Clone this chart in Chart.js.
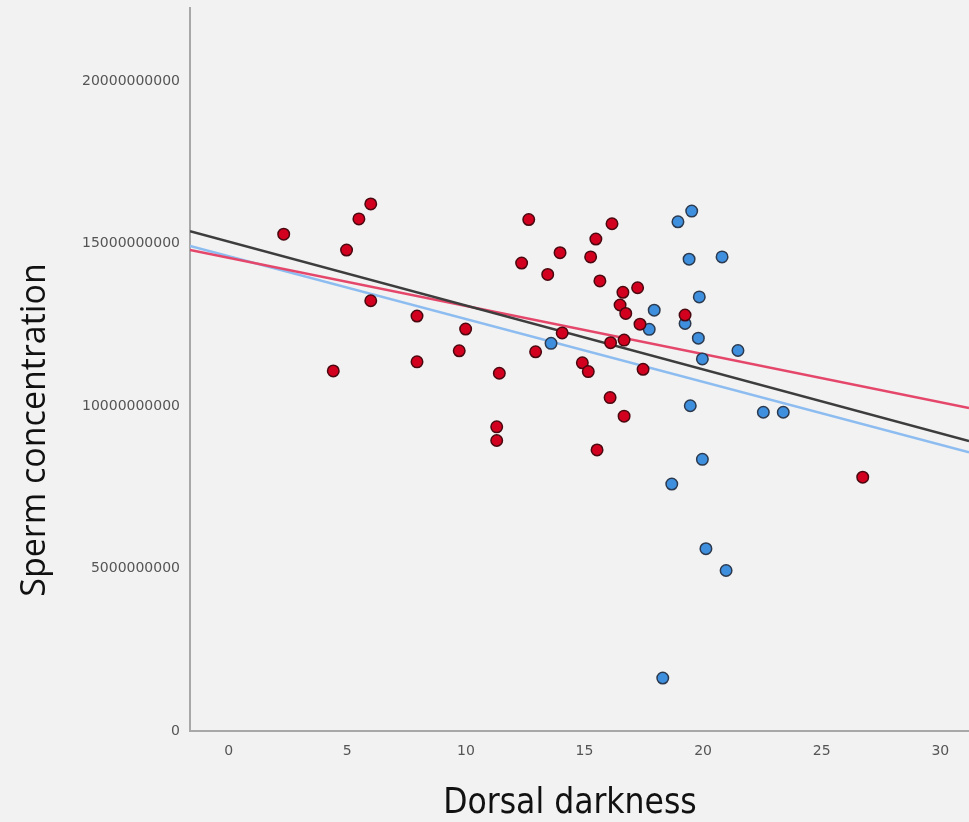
<!DOCTYPE html>
<html>
<head>
<meta charset="utf-8">
<script src="https://cdn.jsdelivr.net/npm/chart.js@4"></script>
<style>
  body { margin: 0; background: #f2f2f2; }
  #wrap { width: 969px; height: 822px; position: relative; }
</style>
</head>
<body>
<div id="wrap"><canvas id="scatterChart"></canvas></div>
<script>
// ---------------------------------------------------------------------------
// data (y in units of 1e9)
// ---------------------------------------------------------------------------
const redX = [2.32, 4.41, 4.97, 5.49, 5.99, 5.99, 7.94, 7.94, 9.72, 9.99,
              11.30, 11.30, 11.41, 12.35, 12.65, 12.94, 13.45, 13.97, 14.06, 14.91,
              15.16, 15.26, 15.48, 15.53, 15.65, 16.08, 16.16, 16.10, 16.50, 16.62,
              16.74, 16.67, 16.67, 17.24, 17.34, 17.47, 19.24, 26.73];
const redY = [15.29, 11.08, 14.80, 15.76, 16.22, 13.24, 12.77, 11.36, 11.70, 12.37,
              9.36, 8.94, 11.01, 14.40, 15.74, 11.67, 14.05, 14.72, 12.25, 11.33,
              11.06, 14.59, 15.14, 8.65, 13.85, 10.26, 15.61, 11.95, 13.11, 13.50,
              12.85, 9.69, 12.03, 13.64, 12.52, 11.13, 12.80, 7.81];

const blueX = [19.52, 18.94, 19.41, 20.80, 19.84, 17.94, 17.73, 19.24, 19.80, 21.47,
               19.97, 13.59, 19.46, 22.54, 23.38, 19.97, 18.68, 20.12, 20.97, 18.30];
const blueY = [16.00, 15.67, 14.52, 14.59, 13.36, 12.95, 12.36, 12.54, 12.09, 11.71,
               11.45, 11.93, 10.01, 9.81, 9.81, 8.36, 7.60, 5.61, 4.94, 1.63];

// fit lines, value at each end of the x range
const fitX = [-1.63, 31.21];
const fitAll = [15.38, 8.92];
const fitRed = [14.80, 9.94];
const fitBlue = [14.93, 8.58];

const xTicks = [0, 5, 10, 15, 20, 25, 30];
const yTicks = [0, 5, 10, 15, 20];

const xTitle = 'Dorsal darkness';
const yTitle = 'Sperm concentration';

const E9 = 1e9;
const toPoints = (xs, ys) => xs.map((x, i) => ({ x: x, y: ys[i] * E9 }));

// axis titles are drawn by hand so they can sit off-centre like the original
const axisTitles = {
    id: 'axisTitles',
    afterDraw(chart) {
        const ctx = chart.ctx;
        ctx.save();
        ctx.fillStyle = '#111';
        ctx.textAlign = 'center';
        ctx.textBaseline = 'alphabetic';
        ctx.font = "35px 'DejaVu Sans Condensed', 'DejaVu Sans'";
        ctx.fillText(xTitle, 570, 813);
        ctx.translate(45, 430);
        ctx.rotate(-Math.PI / 2);
        ctx.font = "34px 'Open Sans'";
        ctx.fillText(yTitle, 0, 0);
        ctx.restore();
    }
};

const tickFont = { family: "'DejaVu Sans'", size: 14 };

new Chart(document.getElementById('scatterChart'), {
    type: 'scatter',
    data: {
        datasets: [
            {
                type: 'line', data: toPoints(fitX, fitRed),
                borderColor: '#e5476b', borderWidth: 2.5, pointRadius: 0, order: 3
            },
            {
                type: 'line', data: toPoints(fitX, fitBlue),
                borderColor: '#8cbcf0', borderWidth: 2.5, pointRadius: 0, order: 4
            },
            {
                type: 'line', data: toPoints(fitX, fitAll),
                borderColor: '#3d3d3d', borderWidth: 2.5, pointRadius: 0, order: 2
            },
            {
                data: toPoints(blueX, blueY),
                backgroundColor: '#3f8fdf', borderColor: '#2b3a4e',
                borderWidth: 1.5, pointRadius: 5.75, order: 1
            },
            {
                data: toPoints(redX, redY),
                backgroundColor: '#d2001e', borderColor: '#4a0810',
                borderWidth: 1.5, pointRadius: 5.75, order: 0
            }
        ]
    },
    options: {
        responsive: true,
        maintainAspectRatio: false,
        animation: false,
        layout: { autoPadding: false, padding: { top: 8, right: 0, bottom: 0, left: 0 } },
        plugins: {
            legend: { display: false },
            tooltip: { enabled: false }
        },
        scales: {
            x: {
                type: 'linear',
                min: fitX[0],
                max: fitX[1],
                grid: { display: false, drawTicks: false },
                border: { display: true, color: '#a8a8a8', width: 2 },
                afterBuildTicks: scale => { scale.ticks = xTicks.map(v => ({ value: v })); },
                afterFit: scale => {
                    scale.height = 91;
                    scale.paddingLeft = 0;
                    scale.paddingRight = 0;
                },
                ticks: { color: '#555', font: tickFont, padding: 12 }
            },
            y: {
                type: 'linear',
                min: 0,
                max: 22.25 * E9,
                grid: { display: false, drawTicks: false },
                border: { display: true, color: '#a8a8a8', width: 2 },
                afterBuildTicks: scale => { scale.ticks = yTicks.map(v => ({ value: v * E9 })); },
                afterFit: scale => {
                    scale.width = 190;
                    scale.paddingTop = 0;
                    scale.paddingBottom = 0;
                },
                ticks: {
                    color: '#555', font: tickFont, padding: 10,
                    callback: v => v.toFixed(0)
                }
            }
        }
    },
    plugins: [axisTitles]
});
</script>
</body>
</html>
